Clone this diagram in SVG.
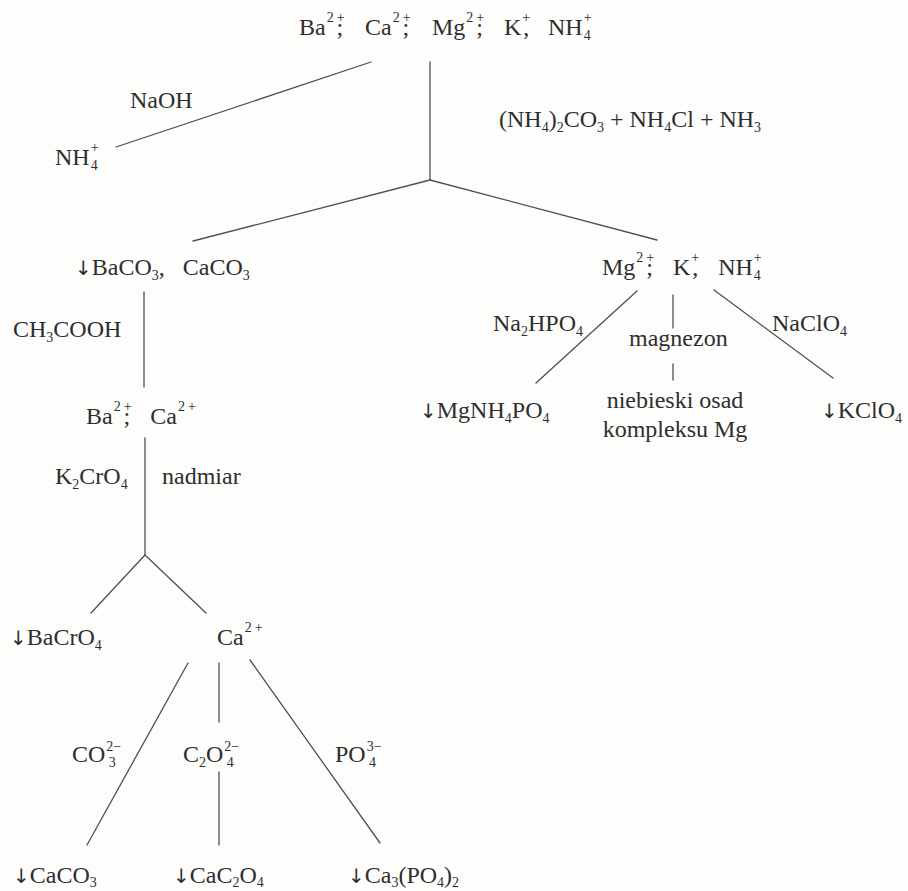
<svg xmlns="http://www.w3.org/2000/svg" width="908" height="891" viewBox="0 0 908 891">
<style>
.t{font-family:"Liberation Serif","Times New Roman",serif;font-size:24px;fill:#2e2e2e}
.s{font-size:14px}
.a{font-family:"DejaVu Sans",sans-serif;font-size:20px;fill:#2e2e2e}
.ln{stroke:#505050;stroke-width:1.3;fill:none;stroke-linecap:round}
</style>
<rect width="908" height="891" fill="#fdfdfc"/>
<g id="connectors" class="ln">
<line x1="116" y1="147" x2="371" y2="62"/>
<line x1="430" y1="62" x2="430" y2="180"/>
<line x1="430" y1="180" x2="193" y2="241"/>
<line x1="430" y1="180" x2="657" y2="240"/>
<line x1="144" y1="292" x2="144" y2="387"/>
<line x1="145" y1="438" x2="145" y2="555"/>
<line x1="145" y1="555" x2="91" y2="613"/>
<line x1="145" y1="555" x2="206" y2="613"/>
<line x1="188" y1="663" x2="87" y2="845"/>
<line x1="219" y1="663" x2="219" y2="722"/>
<line x1="219" y1="772" x2="219" y2="845"/>
<line x1="250" y1="660" x2="380" y2="843"/>
<line x1="637" y1="291" x2="536" y2="383"/>
<line x1="673" y1="295" x2="673" y2="328"/>
<line x1="673" y1="364" x2="673" y2="380"/>
<line x1="714" y1="290" x2="833" y2="378"/>
</g>
<g id="top" class="t">
<text x="299" y="35">Ba<tspan class="s" dy="-13" dx="1">2</tspan><tspan class="s" dx="3">+</tspan><tspan dx="-8" dy="13">;</tspan></text>
<text x="365" y="35">Ca<tspan class="s" dy="-13" dx="1">2</tspan><tspan class="s" dx="3">+</tspan><tspan dx="-8" dy="13">;</tspan></text>
<text x="432" y="35">Mg<tspan class="s" dy="-13" dx="1">2</tspan><tspan class="s" dx="3">+</tspan><tspan dx="-8" dy="13">;</tspan></text>
<text x="504" y="35">K<tspan class="s" dy="-13" dx="1">+</tspan><tspan dx="-7" dy="13">,</tspan></text>
<text x="548" y="35">NH<tspan class="s" dy="-13" dx="1">+</tspan><tspan class="s" dx="-7.9" dy="18">4</tspan></text>
</g>
<g id="naoh-label" class="t"><text x="130" y="108">NaOH</text></g>
<g id="nh4-left" class="t"><text x="55" y="165">NH<tspan class="s" dy="-13" dx="1">+</tspan><tspan class="s" dx="-7.9" dy="18">4</tspan></text></g>
<g id="reagent-main" class="t"><text x="499" y="127">(NH<tspan class="s" dy="5">4</tspan><tspan dy="-5">)</tspan><tspan class="s" dy="5">2</tspan><tspan dy="-5">CO</tspan><tspan class="s" dy="5">3</tspan><tspan dy="-5"> + NH</tspan><tspan class="s" dy="5">4</tspan><tspan dy="-5">Cl + NH</tspan><tspan class="s" dy="5">3</tspan></text></g>
<g id="carbonates" class="t"><text x="75" y="275"><tspan class="a">↓</tspan>BaCO<tspan class="s" dy="5">3</tspan><tspan dy="-5">,</tspan><tspan dx="18">CaCO</tspan><tspan class="s" dy="5">3</tspan></text></g>
<g id="mg-group" class="t"><text x="602" y="275">Mg<tspan class="s" dy="-13" dx="1">2</tspan><tspan class="s" dx="3">+</tspan><tspan dx="-8" dy="13">;</tspan><tspan dx="20">K</tspan><tspan class="s" dy="-13" dx="1">+</tspan><tspan dx="-7" dy="13">,</tspan><tspan dx="20">NH</tspan><tspan class="s" dy="-13" dx="1">+</tspan><tspan class="s" dx="-7.9" dy="18">4</tspan></text></g>
<g id="ch3cooh-label" class="t"><text x="13" y="337">CH<tspan class="s" dy="5">3</tspan><tspan dy="-5">COOH</tspan></text></g>
<g id="ba-ca" class="t"><text x="86" y="424">Ba<tspan class="s" dy="-13" dx="1">2</tspan><tspan class="s" dx="3">+</tspan><tspan dx="-8" dy="13">;</tspan><tspan dx="20">Ca</tspan><tspan class="s" dy="-13" dx="1">2</tspan><tspan class="s" dx="3">+</tspan></text></g>
<g id="k2cro4-label" class="t"><text x="55" y="484">K<tspan class="s" dy="5">2</tspan><tspan dy="-5">CrO</tspan><tspan class="s" dy="5">4</tspan></text></g>
<g id="nadmiar-label" class="t"><text x="162" y="484">nadmiar</text></g>
<g id="bacro4" class="t"><text x="10" y="645"><tspan class="a">↓</tspan>BaCrO<tspan class="s" dy="5">4</tspan></text></g>
<g id="ca2" class="t"><text x="217" y="645">Ca<tspan class="s" dy="-13" dx="1">2</tspan><tspan class="s" dx="3">+</tspan></text></g>
<g id="co3-label" class="t"><text x="72" y="762">CO<tspan class="s" dy="-11" dx="1">2−</tspan><tspan class="s" dx="-12.5" dy="16">3</tspan></text></g>
<g id="c2o4-label" class="t"><text x="183" y="762">C<tspan class="s" dy="5">2</tspan><tspan dy="-5">O</tspan><tspan class="s" dy="-11" dx="1">2−</tspan><tspan class="s" dx="-12.5" dy="16">4</tspan></text></g>
<g id="po4-label" class="t"><text x="335" y="762">PO<tspan class="s" dy="-11" dx="1">3−</tspan><tspan class="s" dx="-12.5" dy="16">4</tspan></text></g>
<g id="caco3" class="t"><text x="13" y="883"><tspan class="a">↓</tspan>CaCO<tspan class="s" dy="4">3</tspan></text></g>
<g id="cac2o4" class="t"><text x="173" y="883"><tspan class="a">↓</tspan>CaC<tspan class="s" dy="4">2</tspan><tspan dy="-4">O</tspan><tspan class="s" dy="4">4</tspan></text></g>
<g id="ca3po42" class="t"><text x="348" y="883"><tspan class="a">↓</tspan>Ca<tspan class="s" dy="4">3</tspan><tspan dy="-4">(PO</tspan><tspan class="s" dy="4">4</tspan><tspan dy="-4">)</tspan><tspan class="s" dy="4">2</tspan></text></g>
<g id="na2hpo4-label" class="t"><text x="493" y="331">Na<tspan class="s" dy="5">2</tspan><tspan dy="-5">HPO</tspan><tspan class="s" dy="5">4</tspan></text></g>
<g id="magnezon-label" class="t"><text x="629" y="346">magnezon</text></g>
<g id="naclo4-label" class="t"><text x="772" y="331">NaClO<tspan class="s" dy="5">4</tspan></text></g>
<g id="mgnh4po4" class="t"><text x="420" y="418"><tspan class="a">↓</tspan>MgNH<tspan class="s" dy="5">4</tspan><tspan dy="-5">PO</tspan><tspan class="s" dy="5">4</tspan></text></g>
<g id="mg-complex" class="t"><text x="675" y="408" text-anchor="middle">niebieski osad</text><text x="675" y="437" text-anchor="middle">kompleksu Mg</text></g>
<g id="kclo4" class="t"><text x="821" y="418"><tspan class="a">↓</tspan>KClO<tspan class="s" dy="5">4</tspan></text></g>
</svg>
